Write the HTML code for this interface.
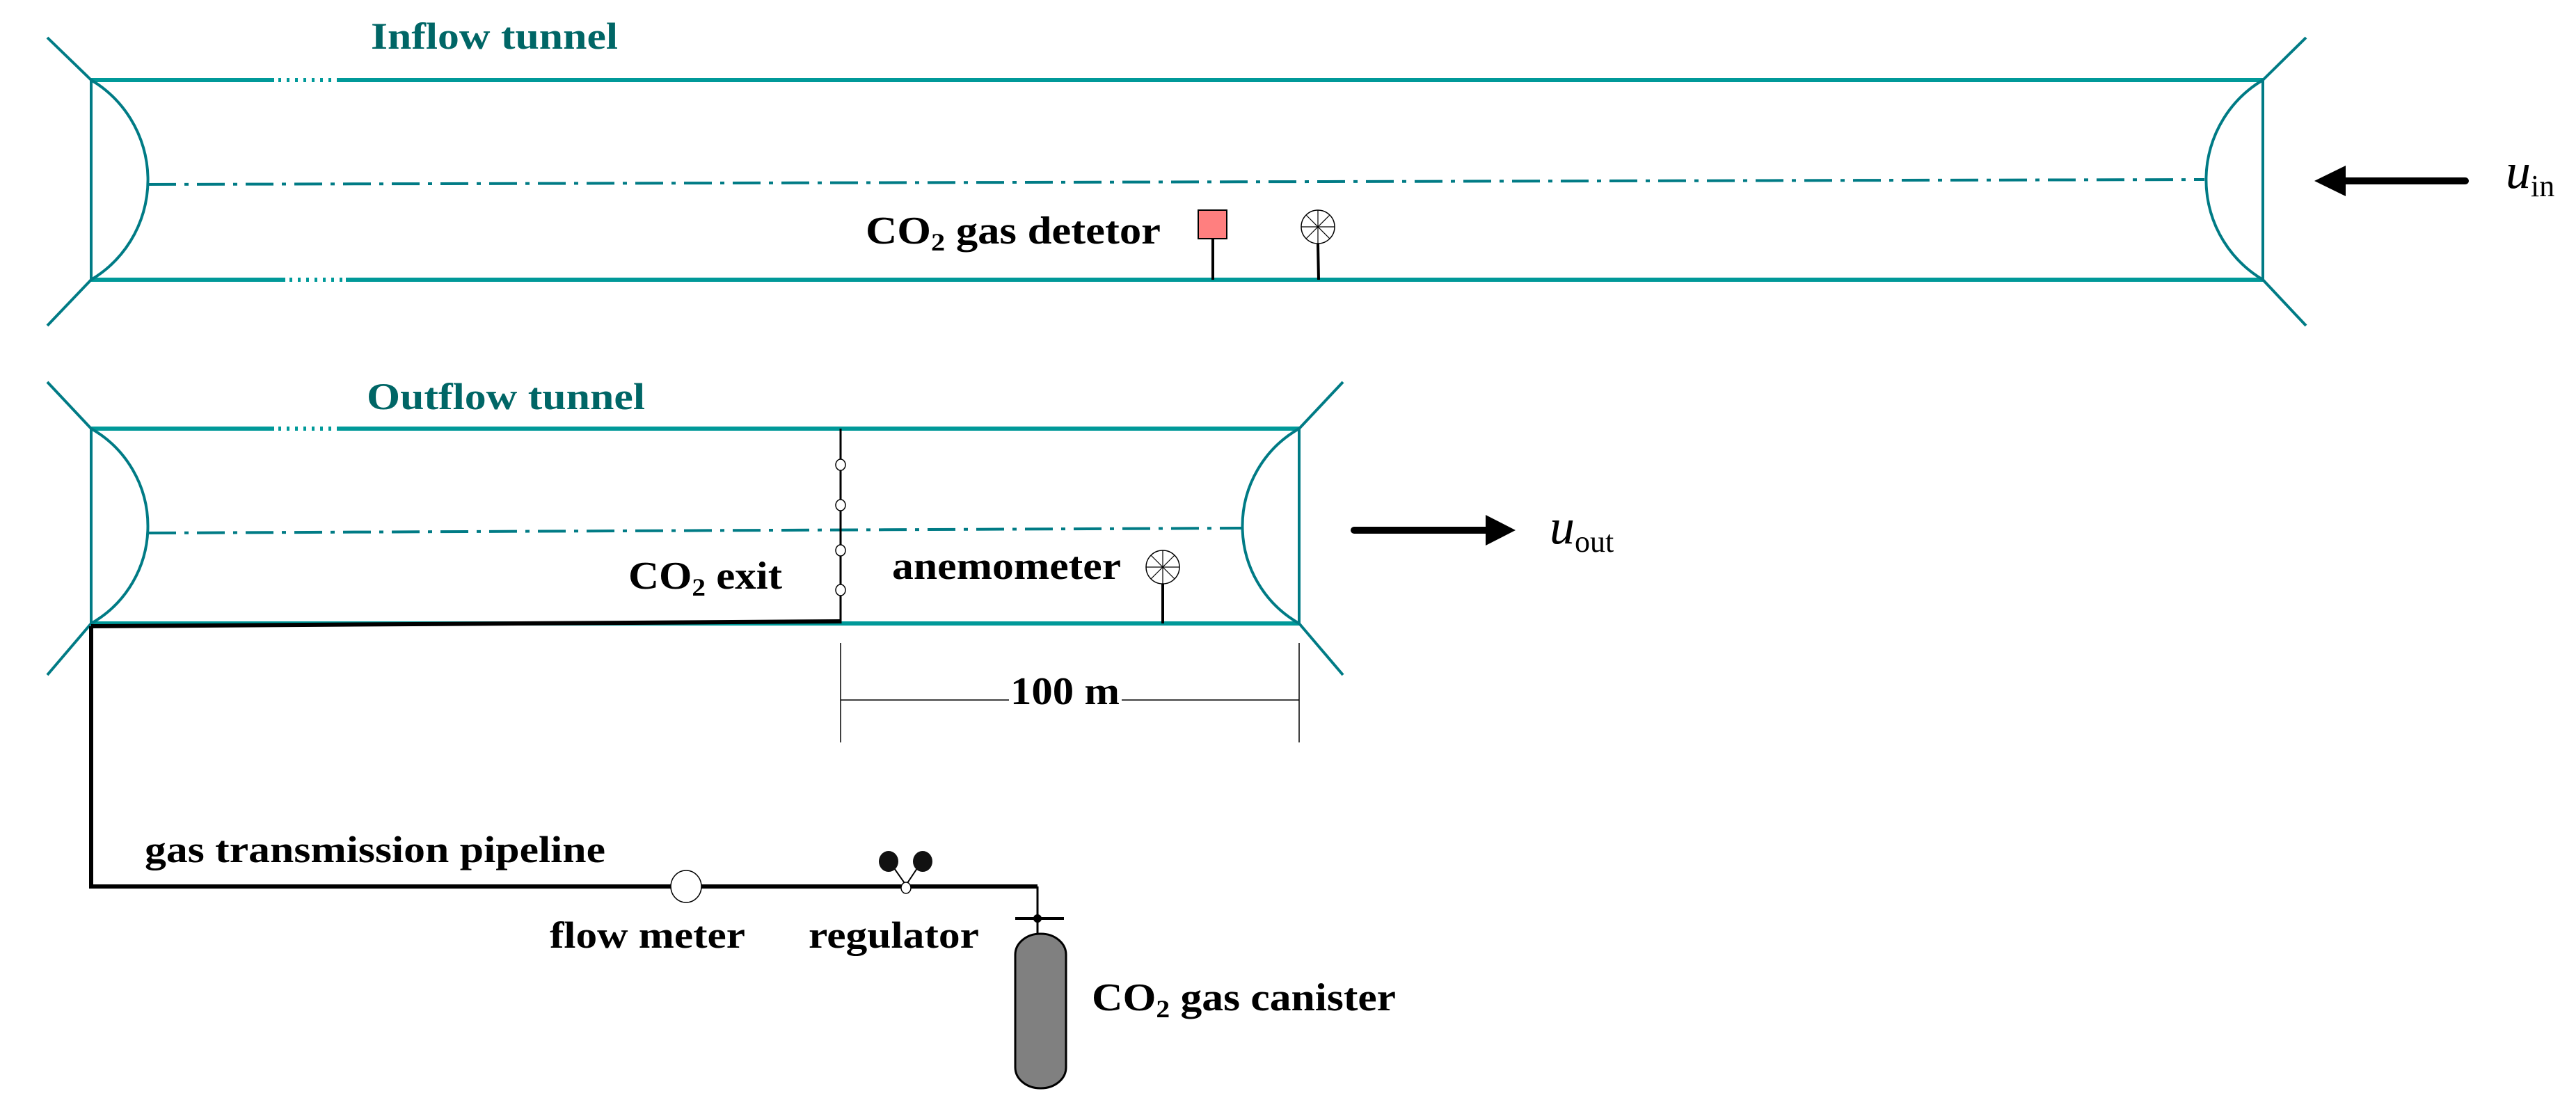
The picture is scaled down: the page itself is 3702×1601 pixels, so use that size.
<!DOCTYPE html>
<html><head><meta charset="utf-8"><style>
html,body{margin:0;padding:0;background:#fff;width:3702px;height:1601px;overflow:hidden}
svg{display:block}
text{font-family:"Liberation Serif",serif;font-weight:bold}
</style></head><body>
<svg width="3702" height="1601" viewBox="0 0 3702 1601" xmlns="http://www.w3.org/2000/svg">
<defs>
<g id="anem">
<circle cx="0" cy="0" r="24" fill="#fff" stroke="#000" stroke-width="1.5"/>
<line x1="-24" y1="0" x2="24" y2="0" stroke="#000" stroke-width="1.2"/>
<line x1="0" y1="-24" x2="0" y2="24" stroke="#000" stroke-width="1.2"/>
<line x1="-17" y1="-17" x2="17" y2="17" stroke="#000" stroke-width="1.2"/>
<line x1="-17" y1="17" x2="17" y2="-17" stroke="#000" stroke-width="1.2"/>
</g>
</defs>

<!-- INFLOW TUNNEL -->
<g stroke="#009999" stroke-width="6" fill="none">
<line x1="131" y1="115" x2="394" y2="115"/>
<line x1="485" y1="115" x2="3252" y2="115"/>
<line x1="131" y1="402" x2="410" y2="402"/>
<line x1="497" y1="402" x2="3252" y2="402"/>
</g>
<g stroke="#009999" stroke-width="6" stroke-dasharray="4 8" fill="none">
<line x1="400" y1="115" x2="485" y2="115"/>
<line x1="416" y1="402" x2="497" y2="402"/>
</g>
<g stroke="#007b85" stroke-width="4" fill="none">
<line x1="68" y1="54" x2="131" y2="115"/>
<line x1="131" y1="402" x2="68" y2="468"/>
<line x1="131" y1="115" x2="131" y2="402"/>
<path d="M131 115 A167 167 0 0 1 131 402"/>
<line x1="3314" y1="54" x2="3252" y2="115"/>
<line x1="3252" y1="402" x2="3314" y2="468"/>
<line x1="3252" y1="115" x2="3252" y2="402"/>
<path d="M3252 115 A167 167 0 0 0 3252 402"/>
<line x1="213" y1="265" x2="3168" y2="258" stroke-dasharray="40 12 6 12"/>
</g>
<text x="533" y="70" font-size="54" fill="#006666" textLength="355" lengthAdjust="spacingAndGlyphs">Inflow tunnel</text>

<text x="1244" y="350" font-size="56" fill="#000" textLength="424" lengthAdjust="spacingAndGlyphs">CO<tspan font-size="36" dy="10">2</tspan><tspan dy="-10"> gas detetor</tspan></text>
<rect x="1722" y="302" width="41" height="41" fill="#ff7f7f" stroke="#000" stroke-width="2"/>
<line x1="1743" y1="343" x2="1743" y2="402" stroke="#000" stroke-width="4"/>
<line x1="1894" y1="350" x2="1895" y2="402" stroke="#000" stroke-width="4"/>
<use href="#anem" x="1894" y="326"/>

<!-- inflow arrow -->
<line x1="3543" y1="260" x2="3360" y2="260" stroke="#000" stroke-width="10" stroke-linecap="round"/>
<polygon points="3326,260 3371,238 3371,282" fill="#000"/>
<text x="3601" y="270" font-size="72" style="font-style:italic;font-weight:normal" fill="#000">u<tspan font-size="44" style="font-style:normal" dy="12">in</tspan></text>

<!-- OUTFLOW TUNNEL -->
<g stroke="#009999" stroke-width="6" fill="none">
<line x1="131" y1="616" x2="394" y2="616"/>
<line x1="485" y1="616" x2="1867" y2="616"/>
<line x1="131" y1="896" x2="1867" y2="896"/>
</g>
<g stroke="#009999" stroke-width="6" stroke-dasharray="4 8" fill="none">
<line x1="400" y1="616" x2="485" y2="616"/>
</g>
<g stroke="#007b85" stroke-width="4" fill="none">
<line x1="68" y1="549" x2="131" y2="616"/>
<line x1="131" y1="896" x2="68" y2="970"/>
<line x1="131" y1="616" x2="131" y2="896"/>
<path d="M131 616 A161 161 0 0 1 131 896"/>
<line x1="1930" y1="549" x2="1867" y2="616"/>
<line x1="1867" y1="896" x2="1930" y2="970"/>
<line x1="1867" y1="616" x2="1867" y2="896"/>
<path d="M1867 616 A161 161 0 0 0 1867 896"/>
<line x1="213" y1="766" x2="1784" y2="759" stroke-dasharray="40 12 6 12"/>
</g>
<text x="527" y="588" font-size="54" fill="#006666" textLength="400" lengthAdjust="spacingAndGlyphs">Outflow tunnel</text>

<!-- CO2 exit line -->
<line x1="1208" y1="616" x2="1208" y2="896" stroke="#000" stroke-width="3"/>
<g fill="#fff" stroke="#000" stroke-width="1.5">
<ellipse cx="1208" cy="668" rx="7" ry="8"/>
<ellipse cx="1208" cy="726" rx="7" ry="8"/>
<ellipse cx="1208" cy="791" rx="7" ry="8"/>
<ellipse cx="1208" cy="848" rx="7" ry="8"/>
</g>
<text x="903" y="846" font-size="56" fill="#000" textLength="221" lengthAdjust="spacingAndGlyphs">CO<tspan font-size="36" dy="10">2</tspan><tspan dy="-10"> exit</tspan></text>
<text x="1282" y="832" font-size="56" fill="#000" textLength="329" lengthAdjust="spacingAndGlyphs">anemometer</text>
<line x1="1671" y1="839" x2="1671" y2="896" stroke="#000" stroke-width="4"/>
<use href="#anem" x="1671" y="815"/>

<!-- outflow arrow -->
<line x1="1946" y1="762" x2="2140" y2="762" stroke="#000" stroke-width="10" stroke-linecap="round"/>
<polygon points="2178,762 2135,740 2135,784" fill="#000"/>
<text x="2227" y="781" font-size="72" style="font-style:italic;font-weight:normal" fill="#000">u<tspan font-size="44" style="font-style:normal" dy="12">out</tspan></text>

<!-- dimension -->
<g stroke="#000" stroke-width="1.5">
<line x1="1208" y1="924" x2="1208" y2="1067"/>
<line x1="1867" y1="924" x2="1867" y2="1067"/>
<line x1="1208" y1="1006" x2="1450" y2="1006"/>
<line x1="1612" y1="1006" x2="1867" y2="1006"/>
</g>
<text x="1452" y="1012" font-size="56" fill="#000" textLength="157" lengthAdjust="spacingAndGlyphs">100 m</text>

<!-- pipeline -->
<g stroke="#000" fill="none">
<polyline points="1208,893 131,900" stroke-width="6"/>
<polyline points="131,900 131,1274 1491,1274" stroke-width="6"/>
<line x1="1491" y1="1274" x2="1491" y2="1342" stroke-width="3"/>
<line x1="1459" y1="1320" x2="1529" y2="1320" stroke-width="4"/>
</g>
<circle cx="1491" cy="1320" r="6" fill="#000"/>
<ellipse cx="986" cy="1274" rx="22" ry="23" fill="#fff" stroke="#000" stroke-width="1.5"/>
<g stroke="#000" stroke-width="2">
<line x1="1283" y1="1245" x2="1302" y2="1272"/>
<line x1="1320" y1="1245" x2="1302" y2="1272"/>
</g>
<ellipse cx="1277" cy="1238" rx="14" ry="15" fill="#111"/>
<ellipse cx="1326" cy="1238" rx="14" ry="15" fill="#111"/>
<ellipse cx="1302" cy="1276" rx="7" ry="8" fill="#fff" stroke="#000" stroke-width="1.5"/>
<rect x="1459" y="1342" width="73" height="222" rx="36" ry="30" fill="#808080" stroke="#000" stroke-width="3"/>

<text x="208" y="1239" font-size="54" fill="#000" textLength="662" lengthAdjust="spacingAndGlyphs">gas transmission pipeline</text>
<text x="790" y="1362" font-size="54" fill="#000" textLength="281" lengthAdjust="spacingAndGlyphs">flow meter</text>
<text x="1162" y="1362" font-size="54" fill="#000" textLength="245" lengthAdjust="spacingAndGlyphs">regulator</text>
<text x="1569" y="1452" font-size="56" fill="#000" textLength="437" lengthAdjust="spacingAndGlyphs">CO<tspan font-size="36" dy="10">2</tspan><tspan dy="-10"> gas canister</tspan></text>
</svg>
</body></html>
